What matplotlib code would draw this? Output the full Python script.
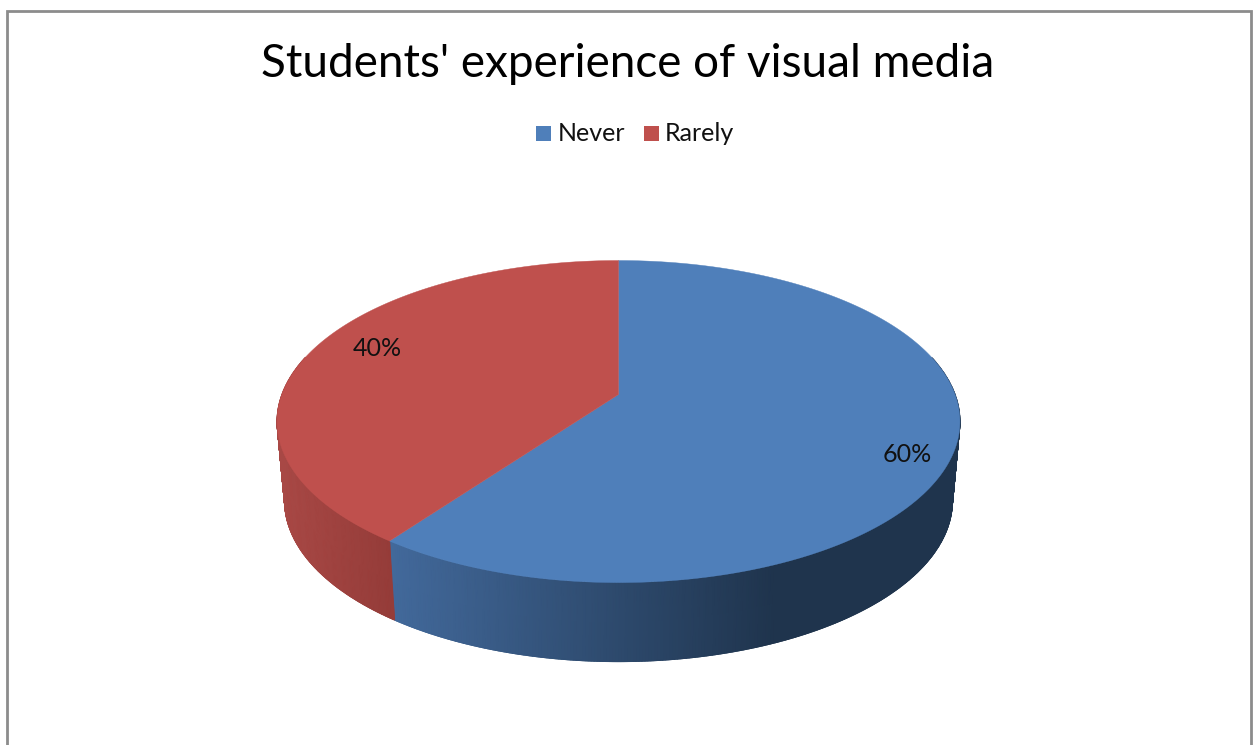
import numpy as np
import matplotlib
matplotlib.use("Agg")
import matplotlib.pyplot as plt
from matplotlib.patches import Polygon, Rectangle
from matplotlib.colors import LinearSegmentedColormap

title = "Students' experience of visual media"
categories = ["Never", "Rarely"]
values = [60, 40]
percent_labels = ["60%", "40%"]

colors = ["#4f7fba", "#bf504d"]
W, H = 1256, 745
FONT = ["Lato", "DejaVu Sans"]

fig = plt.figure(figsize=(W / 100, H / 100), dpi=100)
ax = fig.add_axes([0, 0, 1, 1])
ax.set_xlim(0, W)
ax.set_ylim(H, 0)
ax.axis("off")

# frame (runs off the bottom of the image)
ax.plot([7, 7, 1251, 1251], [H + 5, 11, 11, H + 5], color="#8c8c8c", lw=2.0,
        solid_joinstyle="miter")

# perspective projection of the unit disc
CX, CY, K, A, C = 618.5, 394.5, 336.6, -90.2, 0.168
DEPTH_SCALE, DEPTH = 0.978, 79.0


def project(t):
    """t: clockwise radians from 12 o'clock"""
    u, v = np.sin(t), np.cos(t)
    w = 1 + C * v
    return CX + K * u / w, (A * v + CY) / w


def project_bottom(t):
    x, y = project(t)
    return CX + DEPTH_SCALE * (x - CX), y + DEPTH


wall_maps = [
    (LinearSegmentedColormap.from_list("blue_wall", ["#42699b", "#1f344d"]), 392, 775),
    (LinearSegmentedColormap.from_list("red_wall", ["#a84845", "#953c39"]), 285, 392),
]

# boundaries from the data, clockwise from the top
fractions = np.cumsum([0] + values) / sum(values)
angles = 2 * np.pi * fractions

# side walls, smooth gradient across the visible rim
for i in range(len(values)):
    ts = np.linspace(angles[i], angles[i + 1], 500)
    ts = ts[np.cos(ts) < 0.25]
    xt, yt = project(ts)
    xb, yb = project_bottom(ts)
    X = np.vstack([xt, xb])
    Y = np.vstack([yt, yb])
    cmap, lo, hi = wall_maps[i]
    ax.pcolormesh(X, Y, X, shading="gouraud", cmap=cmap, vmin=lo, vmax=hi, zorder=2)
    # soft outer edge
    edge_col = cmap((xb - lo) / (hi - lo))
    for j in range(0, len(ts) - 1, 4):
        ax.plot(xb[j:j + 5], yb[j:j + 5], color=edge_col[j], lw=0.8, zorder=2.5,
                solid_capstyle="butt")

# top face
for i in range(len(values)):
    ts = np.linspace(angles[i], angles[i + 1], 400)
    x, y = project(ts)
    pts = np.column_stack([np.r_[CX, x], np.r_[CY, y]])
    ax.add_patch(Polygon(pts, closed=True, fc=colors[i], ec=colors[i], lw=0.3, zorder=3))

# texts
ax.text(628, 77, title, fontsize=33, family=FONT, ha="center", va="baseline",
        color="black", zorder=5)

legend_x = [536, 644]
text_gap = [22, 21]
for x0, gap, cat, col in zip(legend_x, text_gap, categories, colors):
    ax.add_patch(Rectangle((x0, 126), 15, 15, fc=col, ec="none", zorder=5))
    ax.text(x0 + gap, 141, cat, fontsize=18, family=FONT, ha="left", va="baseline",
            color="#111111", zorder=5)

for lab, (lx, ly) in zip(percent_labels, [(907, 462), (377, 356)]):
    ax.text(lx, ly, lab, fontsize=18, family=FONT, ha="center", va="baseline",
            color="#111111", zorder=5)

fig.savefig("out.png", dpi=100, facecolor="white")
